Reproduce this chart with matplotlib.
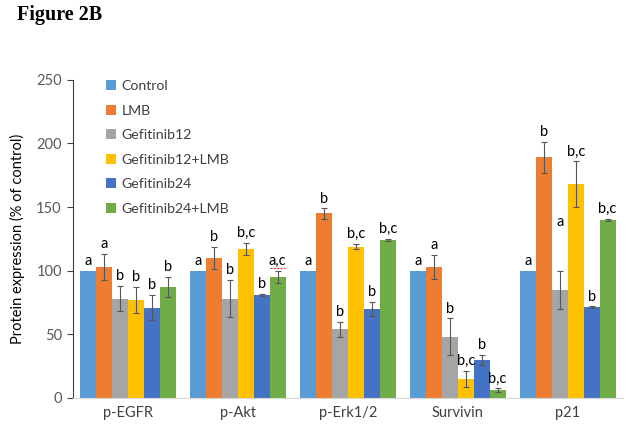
import numpy as np
import matplotlib
matplotlib.use('Agg')
from matplotlib import pyplot as plt

plt.rcParams['font.family'] = ['Lato', 'DejaVu Sans']

categories = ['p-EGFR', 'p-Akt', 'p-Erk1/2', 'Survivin', 'p21']
series = ['Control', 'LMB', 'Gefitinib12', 'Gefitinib12+LMB', 'Gefitinib24', 'Gefitinib24+LMB']
colors = ['#5B9BD5', '#ED7D31', '#A5A5A5', '#FFC000', '#4472C4', '#70AD47']

# rows = series, columns = categories
values = np.array([
    [100, 100, 100, 100, 100],
    [103, 110, 145, 103, 189],
    [78, 78, 54, 48, 85],
    [77, 117, 119, 15, 168],
    [71, 81, 70, 30, 71.5],
    [87, 95, 124, 6, 140],
])
errors = np.array([
    [0, 0, 0, 0, 0],
    [10, 8.5, 4, 9.5, 12],
    [10, 14.5, 6, 14.5, 15],
    [10, 5, 2, 6.5, 18],
    [10, 0.5, 5.5, 4, 0.5],
    [8, 5, 1, 1.5, 1],
])
letters = [
    ['a', 'a', 'a', 'a', 'a'],
    ['a', 'b', 'b', 'a', 'b'],
    ['b', 'b', 'b', 'b', 'a'],
    ['b', 'b,c', 'b,c', 'b,c', 'b,c'],
    ['b', 'b', 'b', 'b', 'b'],
    ['b', 'a,c', 'b,c', 'b,c', 'b,c'],
]

fig = plt.figure(figsize=(6.29, 4.34), dpi=100)
ax = fig.add_axes([0.116, 0.083, 0.874, 0.733])

n = len(series)
width = 0.145
x = np.arange(len(categories))

for i in range(n):
    pos = x + (i - (n - 1) / 2) * width
    ax.bar(pos, values[i], width, color=colors[i], label=series[i], zorder=2)
    has_err = errors[i] > 0
    ax.errorbar(pos[has_err], values[i][has_err], yerr=errors[i][has_err], fmt='none',
                ecolor='#555555', elinewidth=0.8, capsize=2.5, capthick=0.8, zorder=3)
    for j in range(len(categories)):
        top = values[i][j] + errors[i][j]
        if (i, j) == (2, 4):
            top = 131
        ax.annotate(letters[i][j], (pos[j], top), xytext=(0, 2), textcoords='offset points',
                    ha='center', va='bottom', fontsize=10.5, color='black')

# spellcheck underline under "a,c"
ax.plot([x[1] + 2.5 * width - 0.07, x[1] + 2.5 * width + 0.07], [102.3, 102.3],
        color='#E03030', lw=0.8, ls=(0, (2, 1)))

ax.set_xlim(-0.5, 4.5)
ax.set_ylim(0, 250)
ax.set_yticks(np.arange(0, 251, 50))
ax.set_xticks(x)
ax.set_xticklabels(categories)
ax.tick_params(axis='x', length=0, pad=6, labelsize=10.5, labelcolor='#404040')
ax.tick_params(axis='y', length=4, width=0.8, color='#404040', labelsize=10.5,
               labelcolor='#595959', pad=4)
ax.set_ylabel('Protein expression (% of control)', fontsize=10.5, labelpad=8)

for s in ['top', 'right']:
    ax.spines[s].set_visible(False)
ax.spines['left'].set_color('#404040')
ax.spines['left'].set_linewidth(0.8)
ax.spines['bottom'].set_color('#D9D9D9')

leg = ax.legend(loc='upper left', bbox_to_anchor=(0.045, 1.025), frameon=False,
                fontsize=10.2, handlelength=0.7, handleheight=0.7, handletextpad=0.4,
                labelspacing=0.88, borderaxespad=0.2)
for t in leg.get_texts():
    t.set_color('#404040')

fig.text(0.027, 0.965, 'Figure 2B', family='Liberation Serif', fontweight='bold',
         fontsize=14.5, va='center', ha='left')

fig.savefig('out.png', dpi=100)
